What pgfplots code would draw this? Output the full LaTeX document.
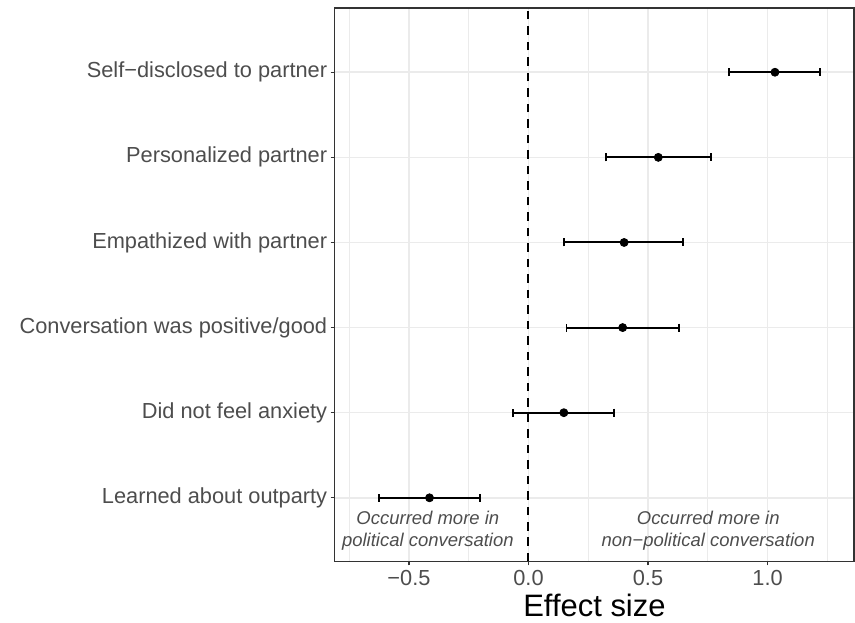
\documentclass[border=0pt]{standalone}
\usepackage{pgfplots}
\pgfplotsset{compat=1.18}
\usepackage{pgfplotstable}
\usepackage{fontspec}
\setmainfont{Liberation Sans}
\definecolor{grey30}{HTML}{4D4D4D}
\definecolor{grey20}{HTML}{333333}
\definecolor{grey92}{HTML}{EBEBEB}

\pgfplotstableread{
y est lo hi
1 -0.414 -0.626 -0.203
2 0.148 -0.063 0.359
3 0.394 0.159 0.630
4 0.400 0.150 0.648
5 0.543 0.323 0.765
6 1.031 0.840 1.220
}\datatable

\begin{document}
\begin{tikzpicture}
\begin{axis}[
  scale only axis, width=520pt, height=554pt,
  xmin=-0.8107, xmax=1.3625, ymin=0.252, ymax=6.755,
  xtick={-0.5,0,0.5,1}, xticklabels={−0.5,0.0,0.5,1.0},
  minor xtick={-0.75,-0.25,0.25,0.75,1.25},
  ytick={1,2,3,4,5,6},
  yticklabels={Learned about outparty,Did not feel anxiety,Conversation was positive/good,Empathized with partner,Personalized partner,Self−disclosed to partner},
  xmajorgrids, xminorgrids, ymajorgrids,
  major grid style={grey92, line width=1.6pt},
  minor grid style={grey92, line width=0.9pt},
  axis line style={grey20, line width=1.6pt},
  tick align=outside, major tick length=4pt, minor tick length=0pt,
  tick style={grey20, line width=1.2pt},
  xtick pos=bottom, ytick pos=left,
  ticklabel style={font=\fontsize{21.8}{24}\selectfont, text=grey30},
  xticklabel style={yshift=-1.5pt},
  xlabel={Effect size},
  xlabel style={font=\fontsize{31}{34}\selectfont, text=black, at={(axis description cs:0.5,0)}, anchor=base, inner sep=0pt, yshift=-55.5pt},
]
\addplot[black, line width=2pt, dash pattern=on 8.5pt off 7pt] coordinates {(0,0.252) (0,6.755)};
\addplot[black, line width=2pt, mark=*, mark size=4pt, only marks,
  mark options={line width=0.8pt},
  error bars/.cd, x dir=both, x explicit,
  error bar style={line width=2pt, black},
  error mark options={black, mark size=4pt, line width=2pt, rotate=90}]
  table[x=est, y=y, x error plus expr=\thisrow{hi}-\thisrow{est}, x error minus expr=\thisrow{est}-\thisrow{lo}] {\datatable};
\node[align=center, font=\itshape\fontsize{18.5}{21.7}\selectfont, text=grey30] at (axis cs:-0.421,0.617) {Occurred more in\\political conversation};
\node[align=center, font=\itshape\fontsize{18.5}{21.7}\selectfont, text=grey30] at (axis cs:0.752,0.617) {Occurred more in\\non−political conversation};
\end{axis}
\path ([shift={(-335pt,-61pt)}]current axis.south west) rectangle ([shift={(520pt,562pt)}]current axis.south west);
\end{tikzpicture}
\end{document}
